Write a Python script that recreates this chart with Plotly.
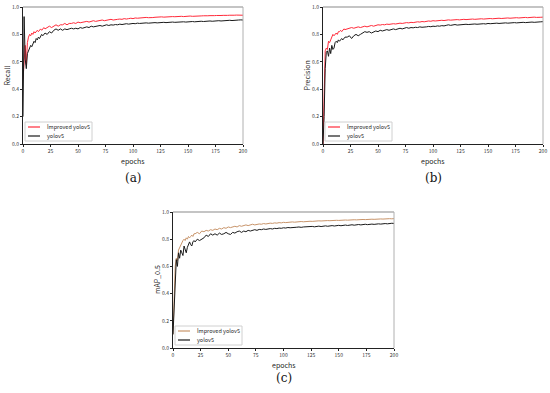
import plotly.graph_objects as go

epochs = list(range(0, 21)) + list(range(22, 201, 2))

recall_improved = [0.47, 0.62, 0.72, 0.58, 0.74, 0.78, 0.80, 0.79, 0.81, 0.80, 0.82, 0.81, 0.82, 0.83, 0.82, 0.83, 0.84, 0.83, 0.84, 0.85, 0.84,
    0.85, 0.86, 0.85, 0.86, 0.87, 0.86, 0.87, 0.87, 0.88, 0.87, 0.88, 0.88, 0.885, 0.88, 0.89, 0.885, 0.89, 0.89, 0.895, 0.89,
    0.895, 0.9, 0.895, 0.9, 0.9, 0.905, 0.9, 0.905, 0.905, 0.91, 0.905, 0.91, 0.91, 0.912, 0.91, 0.915, 0.912, 0.915, 0.918, 0.915,
    0.92, 0.918, 0.92, 0.922, 0.92, 0.924, 0.922, 0.925, 0.923, 0.925, 0.927, 0.925, 0.928, 0.926, 0.928, 0.93, 0.928, 0.93, 0.929, 0.931,
    0.93, 0.932, 0.93, 0.933, 0.931, 0.934, 0.932, 0.934, 0.935, 0.933, 0.935, 0.936, 0.934, 0.936, 0.937, 0.935, 0.937, 0.938, 0.936, 0.938,
    0.939, 0.937, 0.939, 0.94, 0.938, 0.94, 0.941, 0.939, 0.941, 0.94]
recall_yolov5 = [0.2, 0.93, 0.62, 0.55, 0.66, 0.68, 0.70, 0.72, 0.71, 0.73, 0.75, 0.74, 0.77, 0.76, 0.78, 0.77, 0.79, 0.8, 0.79, 0.8, 0.81,
    0.80, 0.82, 0.81, 0.83, 0.84, 0.83, 0.84, 0.83, 0.84, 0.835, 0.84, 0.845, 0.84, 0.845, 0.84, 0.85, 0.845, 0.85, 0.855, 0.85,
    0.86, 0.855, 0.86, 0.86, 0.865, 0.86, 0.865, 0.87, 0.865, 0.87, 0.868, 0.872, 0.87, 0.875, 0.872, 0.875, 0.878, 0.875, 0.878, 0.88,
    0.878, 0.882, 0.88, 0.883, 0.881, 0.884, 0.882, 0.885, 0.883, 0.886, 0.884, 0.887, 0.885, 0.888, 0.886, 0.889, 0.887, 0.89, 0.888, 0.89,
    0.891, 0.889, 0.892, 0.89, 0.893, 0.891, 0.894, 0.892, 0.895, 0.893, 0.896, 0.894, 0.897, 0.895, 0.898, 0.896, 0.899, 0.897, 0.9, 0.898,
    0.9, 0.902, 0.9, 0.903, 0.901, 0.904, 0.903, 0.905, 0.906, 0.905]

precision_improved = [0.0, 0.3, 0.68, 0.70, 0.69, 0.75, 0.74, 0.76, 0.78, 0.80, 0.79, 0.80, 0.81, 0.80, 0.82, 0.82, 0.83, 0.82, 0.83, 0.84, 0.835,
    0.84, 0.845, 0.85, 0.845, 0.85, 0.855, 0.85, 0.855, 0.86, 0.855, 0.86, 0.865, 0.86, 0.865, 0.87, 0.868, 0.872, 0.87, 0.875, 0.873,
    0.876, 0.878, 0.876, 0.88, 0.882, 0.88, 0.884, 0.886, 0.884, 0.888, 0.886, 0.89, 0.892, 0.89, 0.894, 0.892, 0.896, 0.898, 0.896, 0.9,
    0.898, 0.901, 0.9, 0.903, 0.901, 0.904, 0.906, 0.904, 0.907, 0.905, 0.908, 0.906, 0.909, 0.91, 0.908, 0.911, 0.909, 0.912, 0.91, 0.913,
    0.912, 0.914, 0.912, 0.915, 0.913, 0.916, 0.914, 0.917, 0.915, 0.918, 0.916, 0.919, 0.917, 0.92, 0.918, 0.921, 0.919, 0.922, 0.92, 0.923,
    0.921, 0.924, 0.922, 0.925, 0.923, 0.926, 0.924, 0.927, 0.925, 0.926]
precision_yolov5 = [0.0, 0.2, 0.55, 0.67, 0.68, 0.64, 0.70, 0.66, 0.72, 0.69, 0.70, 0.74, 0.75, 0.74, 0.76, 0.75, 0.76, 0.77, 0.76, 0.77, 0.78,
    0.78, 0.79, 0.77, 0.79, 0.80, 0.79, 0.80, 0.81, 0.82, 0.815, 0.82, 0.81, 0.82, 0.825, 0.82, 0.83, 0.825, 0.83, 0.835, 0.83,
    0.835, 0.84, 0.835, 0.84, 0.845, 0.84, 0.845, 0.85, 0.845, 0.85, 0.848, 0.852, 0.85, 0.855, 0.852, 0.856, 0.855, 0.858, 0.856, 0.86,
    0.858, 0.862, 0.86, 0.864, 0.862, 0.866, 0.87, 0.866, 0.868, 0.872, 0.868, 0.87, 0.873, 0.87, 0.874, 0.872, 0.875, 0.873, 0.876, 0.874,
    0.877, 0.875, 0.878, 0.876, 0.88, 0.878, 0.881, 0.879, 0.882, 0.88, 0.883, 0.881, 0.884, 0.882, 0.885, 0.883, 0.886, 0.884, 0.887, 0.885,
    0.888, 0.886, 0.889, 0.887, 0.89, 0.888, 0.891, 0.89, 0.892, 0.893]

map_improved = [0.1, 0.35, 0.6, 0.66, 0.64, 0.72, 0.74, 0.76, 0.78, 0.79, 0.80, 0.79, 0.81, 0.80, 0.82, 0.81, 0.82, 0.83, 0.82, 0.84, 0.84,
    0.85, 0.84, 0.86, 0.855, 0.865, 0.86, 0.87, 0.865, 0.875, 0.87, 0.88, 0.875, 0.885, 0.88, 0.89, 0.885, 0.89, 0.895, 0.89, 0.9,
    0.895, 0.9, 0.905, 0.9, 0.905, 0.91, 0.905, 0.91, 0.912, 0.91, 0.915, 0.912, 0.916, 0.918, 0.916, 0.92, 0.918, 0.922, 0.92, 0.924,
    0.922, 0.925, 0.924, 0.927, 0.925, 0.928, 0.927, 0.93, 0.928, 0.931, 0.93, 0.932, 0.931, 0.934, 0.932, 0.935, 0.934, 0.936, 0.935, 0.937,
    0.936, 0.938, 0.937, 0.939, 0.938, 0.94, 0.939, 0.941, 0.94, 0.942, 0.941, 0.943, 0.942, 0.944, 0.943, 0.945, 0.944, 0.946, 0.945, 0.947,
    0.946, 0.948, 0.947, 0.949, 0.948, 0.95, 0.949, 0.951, 0.95, 0.951]
map_yolov5 = [0.1, 0.3, 0.55, 0.65, 0.6, 0.7, 0.66, 0.72, 0.7, 0.68, 0.75, 0.72, 0.7, 0.74, 0.77, 0.78, 0.76, 0.75, 0.78, 0.79, 0.78,
    0.8, 0.79, 0.8, 0.81, 0.83, 0.82, 0.84, 0.83, 0.84, 0.83, 0.845, 0.835, 0.84, 0.85, 0.84, 0.835, 0.85, 0.845, 0.855, 0.86,
    0.85, 0.86, 0.855, 0.865, 0.86, 0.865, 0.87, 0.865, 0.872, 0.87, 0.875, 0.872, 0.876, 0.878, 0.875, 0.88, 0.878, 0.882, 0.88, 0.884,
    0.882, 0.886, 0.884, 0.887, 0.885, 0.888, 0.89, 0.887, 0.89, 0.892, 0.889, 0.892, 0.894, 0.891, 0.894, 0.896, 0.893, 0.896, 0.898, 0.895,
    0.898, 0.9, 0.897, 0.9, 0.902, 0.899, 0.902, 0.904, 0.901, 0.904, 0.906, 0.903, 0.906, 0.908, 0.905, 0.908, 0.91, 0.907, 0.91, 0.911,
    0.909, 0.912, 0.913, 0.911, 0.914, 0.915, 0.913, 0.916, 0.917, 0.916]

x_ticks = [0, 25, 50, 75, 100, 125, 150, 175, 200]
y_ticks = [0.0, 0.2, 0.4, 0.6, 0.8, 1.0]
y_tick_text = ["0.0", "0.2", "0.4", "0.6", "0.8", "1.0"]
series_names = ["Improved yolov5", "yolov5"]
panel_titles = ["Recall", "Precision", "mAP_0.5"]
panel_labels = ["(a)", "(b)", "(c)"]

W, H = 550, 393
# panel pixel boxes: left, right, top, bottom
boxes = [(23, 243, 7, 144), (323, 543, 7, 144), (173, 394, 212, 348)]
label_offsets = [34, 34, 30]
improved_colors = ["#ff2a3a", "#ff2a3a", "#c8946a"]
data = [(recall_improved, recall_yolov5), (precision_improved, precision_yolov5), (map_improved, map_yolov5)]


def px(x):
    return x / W


def py(y):
    return 1 - y / H


fig = go.Figure()
font = "Noto Sans CJK SC, DejaVu Sans, sans-serif"
layout = dict(width=W, height=H, margin=dict(l=0, r=0, t=0, b=0),
              paper_bgcolor="white", plot_bgcolor="white", showlegend=False,
              font=dict(family=font, size=6, color="#222"))
shapes = []
annotations = []
for i, ((imp, base), (l, r, t, b)) in enumerate(zip(data, boxes)):
    sfx = "" if i == 0 else str(i + 1)
    fig.add_trace(go.Scatter(x=epochs, y=imp, mode="lines", name=series_names[0],
                             line=dict(color=improved_colors[i], width=1),
                             xaxis="x" + sfx, yaxis="y" + sfx))
    fig.add_trace(go.Scatter(x=epochs, y=base, mode="lines", name=series_names[1],
                             line=dict(color="#1a1a1a", width=1),
                             xaxis="x" + sfx, yaxis="y" + sfx))
    xd = [px(l), px(r)]
    yd = [py(b), py(t)]
    layout["xaxis" + sfx] = dict(domain=xd, range=[0, 200], tickvals=x_ticks, showgrid=False, zeroline=False,
                                 showline=True, linecolor="#222", linewidth=1, ticks="outside", ticklen=2,
                                 tickcolor="#222", tickfont=dict(size=5, color="#333"), automargin=False,
                                 anchor="y" + sfx)
    layout["yaxis" + sfx] = dict(domain=yd, range=[0, 1.0], tickvals=y_ticks, ticktext=y_tick_text, showgrid=False,
                                 zeroline=False, showline=True, linecolor="#222", linewidth=1, ticks="outside",
                                 ticklen=2, tickcolor="#222", tickfont=dict(size=5, color="#333"), automargin=False,
                                 anchor="x" + sfx)
    # gray top and right spines
    shapes.append(dict(type="line", xref="paper", yref="paper", x0=xd[0], x1=xd[1], y0=yd[1], y1=yd[1],
                       line=dict(color="#b0b0b0", width=1.5)))
    shapes.append(dict(type="line", xref="paper", yref="paper", x0=xd[1], x1=xd[1], y0=yd[0], y1=yd[1],
                       line=dict(color="#b0b0b0", width=1)))
    # axis titles
    annotations.append(dict(text="epochs", xref="paper", yref="paper", x=px((l + r) / 2), y=py(b + 10.5),
                            showarrow=False, font=dict(size=7, color="#222"), xanchor="center", yanchor="top",
                            borderpad=0))
    annotations.append(dict(text=panel_titles[i], xref="paper", yref="paper", x=px(l - 16), y=py((t + b) / 2),
                            showarrow=False, textangle=-90, font=dict(size=7, color="#222"),
                            xanchor="center", yanchor="middle"))
    # legend box
    shapes.append(dict(type="rect", xref="paper", yref="paper", x0=px(l + 2), x1=px(l + 69),
                       y0=py(b - 3), y1=py(b - 22), line=dict(color="#d0d0d0", width=1), fillcolor="white"))
    for j, (name, col) in enumerate(zip(series_names, [improved_colors[i], "#1a1a1a"])):
        yy = b - 17 + j * 9
        shapes.append(dict(type="line", xref="paper", yref="paper", x0=px(l + 5), x1=px(l + 17),
                           y0=py(yy), y1=py(yy), line=dict(color=col, width=1.2)))
        annotations.append(dict(text=name, xref="paper", yref="paper", x=px(l + 22), y=py(yy),
                                showarrow=False, font=dict(size=5.5, color="#222"),
                                xanchor="left", yanchor="middle"))
    annotations.append(dict(text=panel_labels[i], xref="paper", yref="paper",
                            x=px((l + r) / 2), y=py(b + label_offsets[i]), showarrow=False,
                            font=dict(family="DejaVu Serif, serif", size=12, color="#111"),
                            xanchor="center", yanchor="middle"))

layout["shapes"] = shapes
layout["annotations"] = annotations
fig.update_layout(**layout)
fig.write_html("out.html", config={"displayModeBar": False},
               post_script="document.body.style.margin='0';document.body.style.padding='0';"
                           "document.documentElement.style.overflow='hidden';")
